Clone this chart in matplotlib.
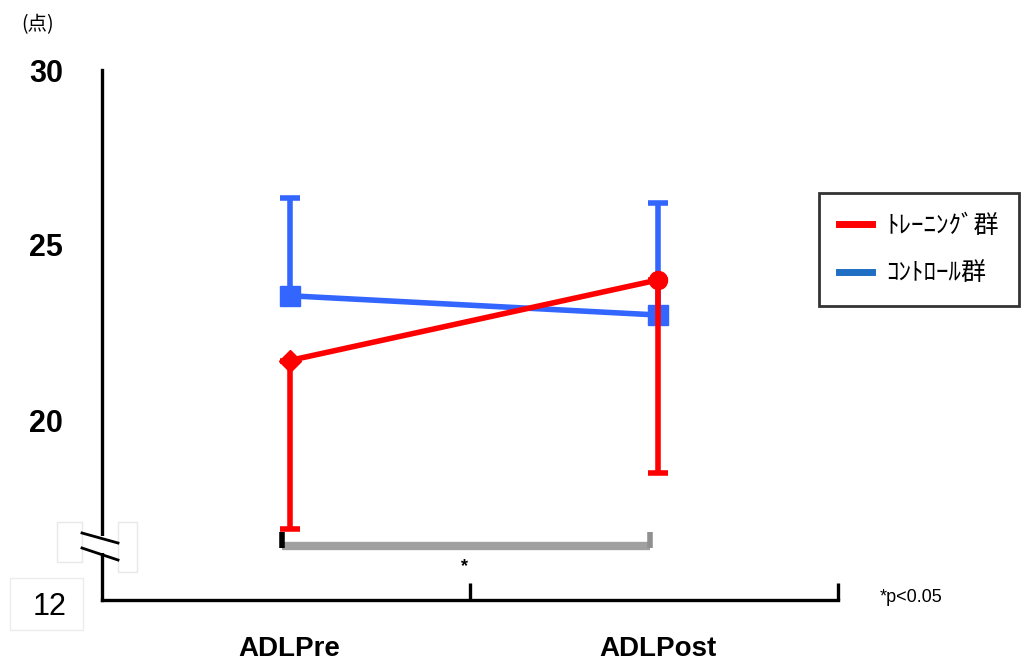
import numpy as np
import matplotlib
matplotlib.use('Agg')
import matplotlib.pyplot as plt
from matplotlib.lines import Line2D
from matplotlib.patches import Rectangle

plt.rcParams['font.family'] = ['Liberation Sans', 'Noto Sans CJK JP', 'DejaVu Sans']

# ADL score, pre/post, mean and one-sided SD
phases = ['ADLPre', 'ADLPost']
train_mean = [21.7, 24.0]
train_sd = [4.8, 5.5]      # drawn downward
ctrl_mean = [23.55, 23.0]
ctrl_sd = [2.8, 3.2]       # drawn upward
groups = ['ﾄﾚｰﾆﾝｸﾞ群', 'ｺﾝﾄﾛｰﾙ群']
ytick_vals = [20, 25, 30]
ybreak_label = '12'

W, H = 1032, 666
fig = plt.figure(figsize=(W / 100, H / 100), dpi=100)
ax = fig.add_axes([102 / W, 1 - 600 / H, (838 - 102) / W, (600 - 70) / H])

def fpx(x, y):
    return x / W, 1 - y / H

x = np.arange(len(phases))
zero = [0, 0]

ax.errorbar(x, ctrl_mean, yerr=[zero, ctrl_sd], color='#3366ff', lw=4,
            elinewidth=4, capsize=7, capthick=4, marker='s', ms=15, zorder=3)
ax.errorbar(x, train_mean, yerr=[train_sd, zero], color='#ff0000', lw=4,
            elinewidth=4, capsize=7, capthick=4, marker=None, zorder=4)
ax.plot(x[0], train_mean[0], marker='D', ms=11, color='#ff0000', zorder=5)
ax.plot(x[1], train_mean[1], marker='o', ms=13, color='#ff0000', zorder=5)

# significance bracket
ax.plot([-0.02, 0.98], [16.4, 16.4], color='#a0a0a0', lw=6, solid_capstyle='butt', zorder=2)
ax.plot([-0.02, -0.02], [16.35, 16.8], color='black', lw=4, solid_capstyle='butt', zorder=2)
ax.plot([0.98, 0.98], [16.35, 16.8], color='#909090', lw=4, solid_capstyle='butt', zorder=2)
ax.text(0.476, 15.8, '*', ha='center', va='center', fontsize=13, fontweight='bold')

ax.set_xlim(-0.51, 1.49)
ax.set_ylim(20 - 180 / 35, 20 + 350 / 35)

for s in ['top', 'right']:
    ax.spines[s].set_visible(False)
for s in ['left', 'bottom']:
    ax.spines[s].set_linewidth(2.4)

ax.set_xticks(x)
ax.set_xticklabels(phases, fontsize=20, fontweight='bold')
ax.tick_params(axis='x', which='major', length=0, pad=26)
ax.set_xticks([0.49, 1.49], minor=True)
ax.tick_params(axis='x', which='minor', direction='in', length=12, width=2.4)

ax.set_yticks(ytick_vals)
ax.set_yticklabels([str(v) for v in ytick_vals], fontsize=22, fontweight='bold')
ax.tick_params(axis='y', which='major', length=0, pad=28)
ax.set_yticks([30], minor=True)
ax.tick_params(axis='y', which='minor', direction='in', length=9, width=2.4)

# axis break marks
fig.add_artist(Rectangle(fpx(57, 562), 25 / W, 40 / H, transform=fig.transFigure,
                         fc='white', ec='#e8e8e8', lw=1, zorder=5))
fig.add_artist(Rectangle(fpx(118, 572), 19 / W, 50 / H, transform=fig.transFigure,
                         fc='white', ec='#e8e8e8', lw=1, zorder=5))
fig.add_artist(Rectangle(fpx(95, 553), 14 / W, 17 / H, transform=fig.transFigure,
                         fc='white', ec='none', zorder=6))
for (x0, y0, x1, y1) in [(82, 533, 118, 543), (82, 548, 118, 560)]:
    fig.add_artist(Line2D([x0 / W, x1 / W], [1 - y0 / H, 1 - y1 / H],
                          transform=fig.transFigure, color='black', lw=2, zorder=7))
fig.add_artist(Rectangle(fpx(10, 630), 73 / W, 52 / H, transform=fig.transFigure,
                         fc='white', ec='#ececec', lw=1, zorder=5))
fig.text(*fpx(50, 607), ybreak_label, ha='center', va='center', fontsize=22, zorder=8)

fig.text(*fpx(38, 25), '(点)', ha='center', va='center', fontsize=14,
         family=['Noto Sans CJK JP'])
fig.text(*fpx(911, 598), '*p<0.05', ha='center', va='center', fontsize=13)

handles = [Line2D([], [], color='#ff0000', lw=5), Line2D([], [], color='#1f6fc4', lw=5)]
leg = fig.legend(handles, groups, loc='upper left', bbox_to_anchor=fpx(819, 193),
                 borderaxespad=0, frameon=True, fancybox=False, edgecolor='black',
                 handlelength=1.3, handletextpad=0.6, borderpad=0.8, labelspacing=0.85,
                 prop={'family': ['Noto Sans CJK JP'], 'size': 18})
leg.get_frame().set_linewidth(2)

fig.savefig('out.png', dpi=100, facecolor='white')
